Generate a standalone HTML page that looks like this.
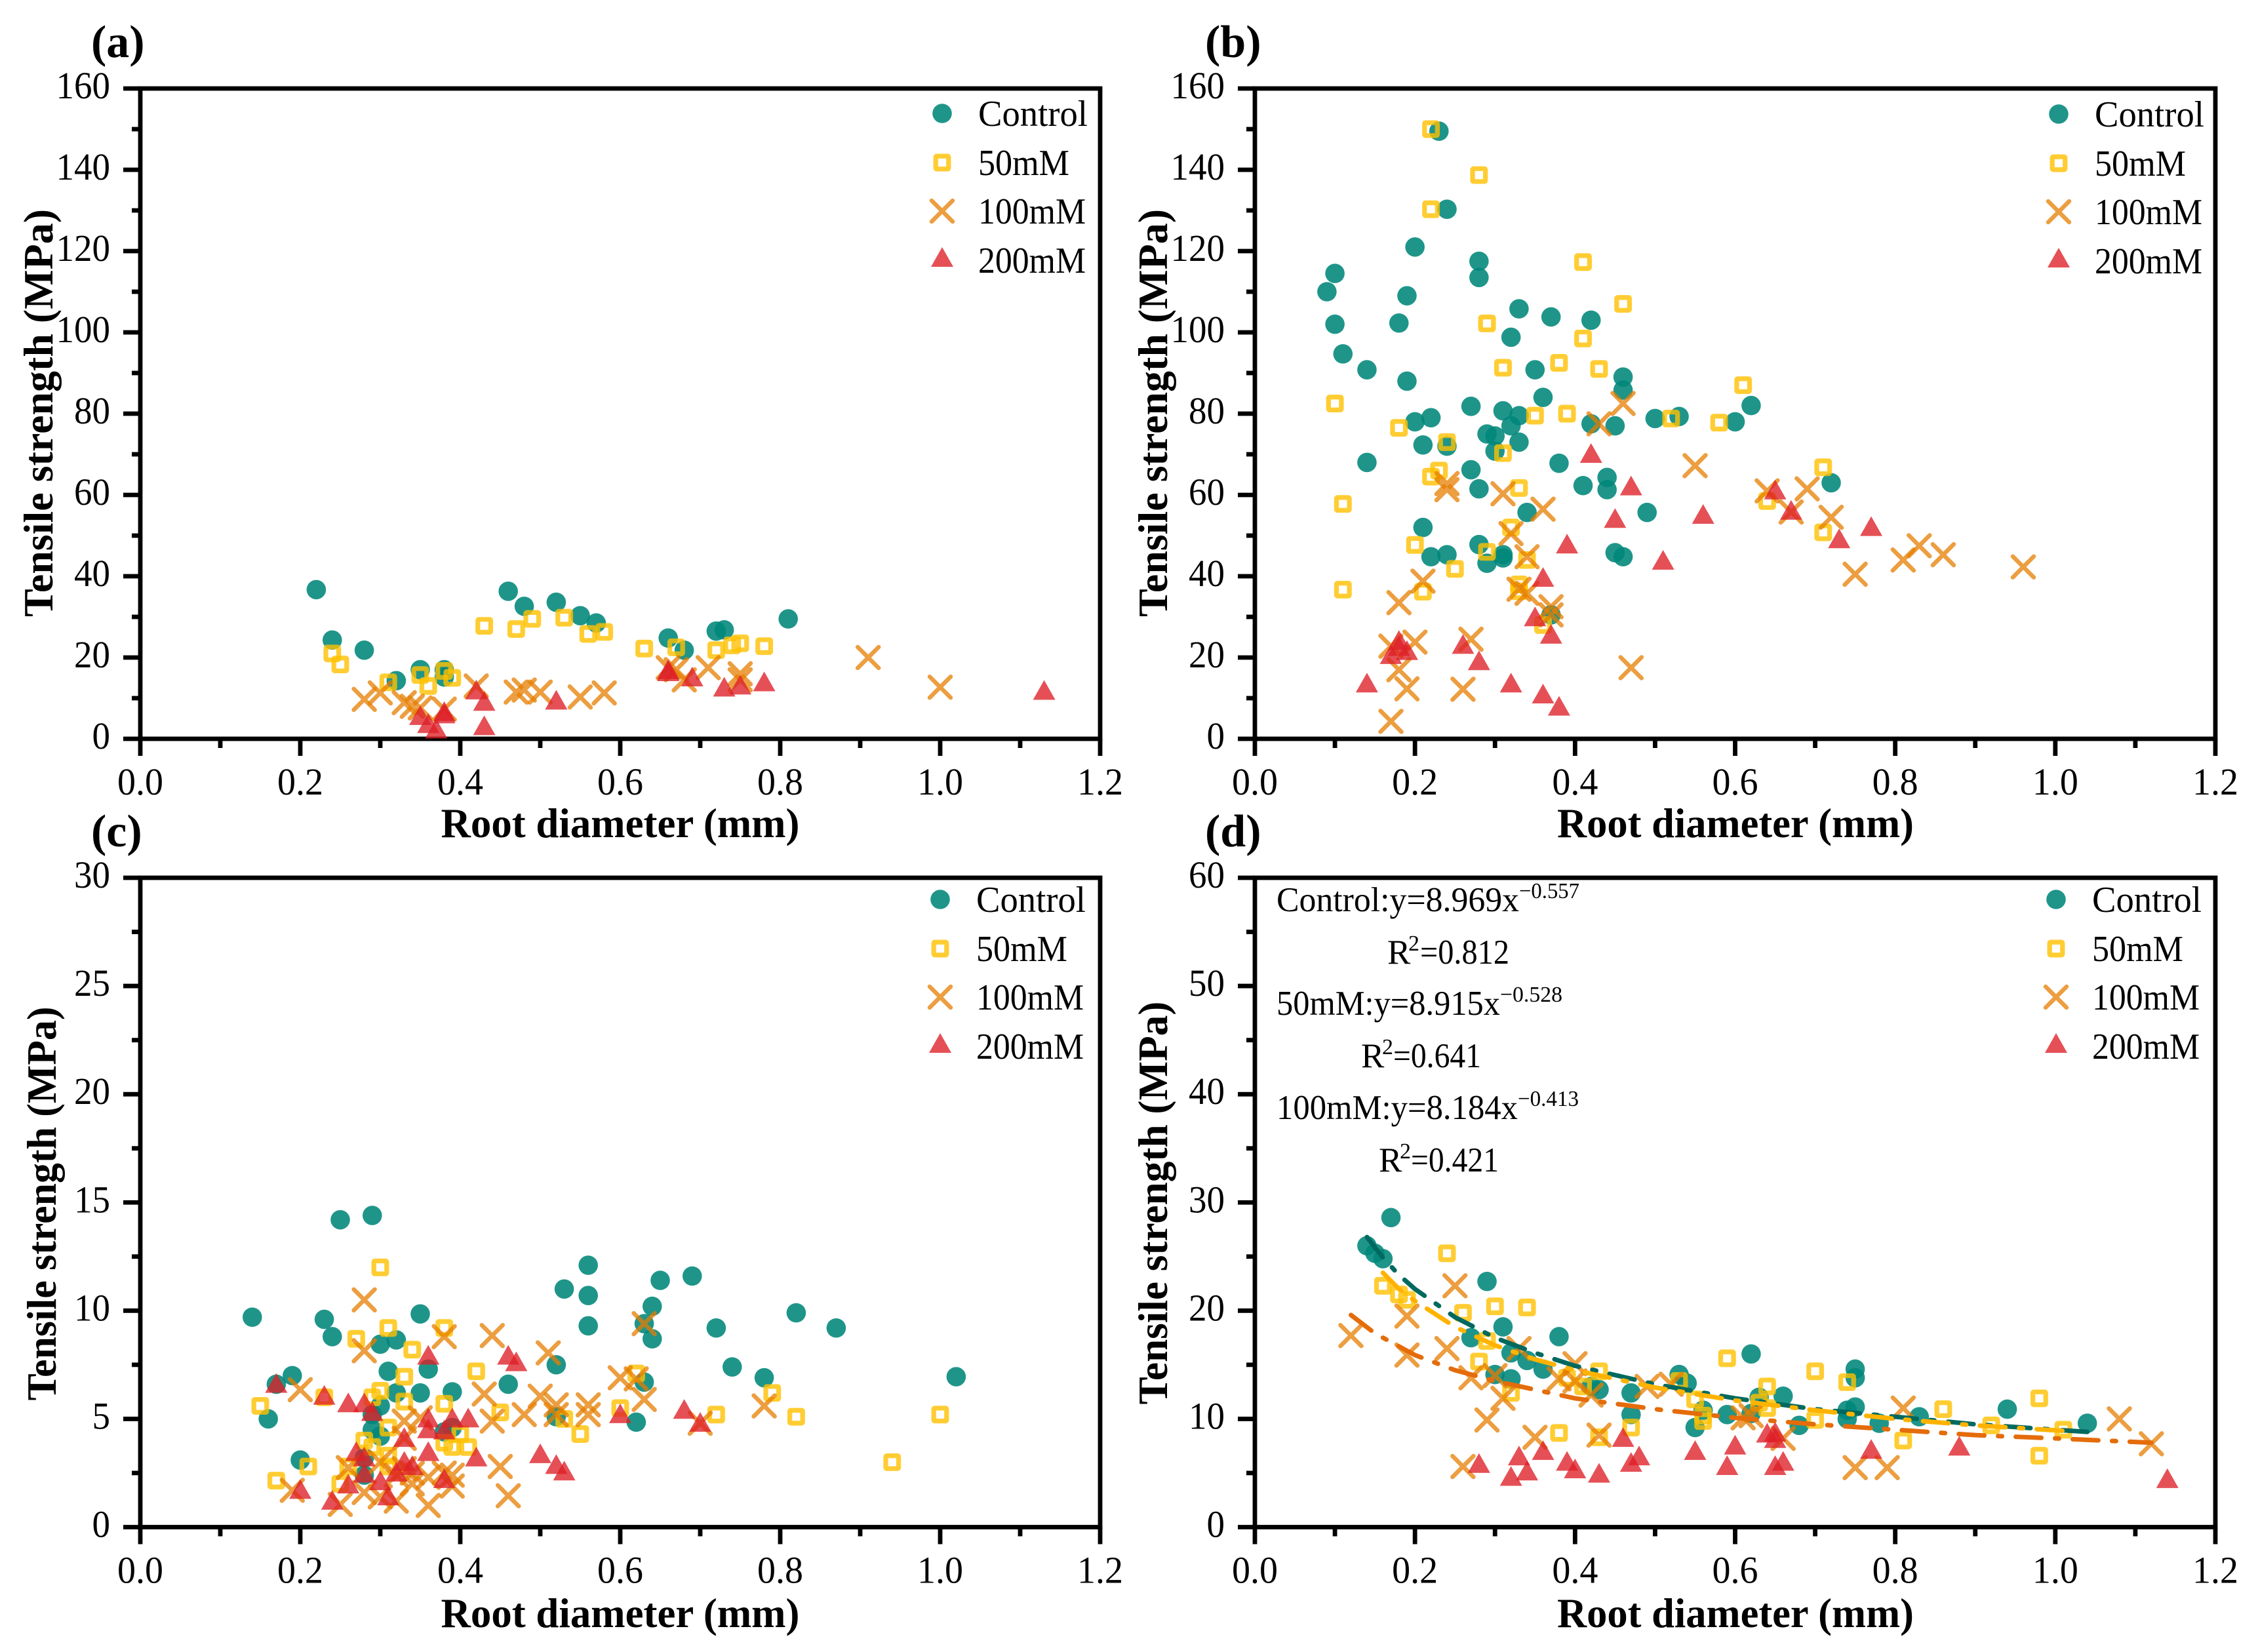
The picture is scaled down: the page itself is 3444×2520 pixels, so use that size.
<!DOCTYPE html>
<html lang="en">
<head>
<meta charset="utf-8">
<title>Tensile strength vs root diameter</title>
<style>
html,body{margin:0;padding:0;background:#fff;width:3444px;height:2520px;overflow:hidden}
svg{display:block}
text{font-family:"Liberation Serif",serif;fill:#000}
.title{font-weight:bold;font-size:63px}
.plabel{font-weight:bold;font-size:70px}
.eq{font-size:53px}
.sup{font-size:34px}
</style>
</head>
<body>
<svg id="figure" xmlns="http://www.w3.org/2000/svg" width="3444" height="2520" viewBox="0 0 3444 2520">
  <rect x="0" y="0" width="3444" height="2520" fill="#fff"/>
  <g id="plots"></g>

  <text class="plabel" x="139" y="87">(a)</text>
  <text class="plabel" x="1838" y="87">(b)</text>
  <text class="plabel" x="139" y="1291">(c)</text>
  <text class="plabel" x="1838" y="1291">(d)</text>

  <text class="title" x="946" y="1277" text-anchor="middle" textLength="547" lengthAdjust="spacingAndGlyphs">Root diameter (mm)</text>
  <text class="title" x="2647" y="1277" text-anchor="middle" textLength="544" lengthAdjust="spacingAndGlyphs">Root diameter (mm)</text>
  <text class="title" x="946" y="2482" text-anchor="middle" textLength="547" lengthAdjust="spacingAndGlyphs">Root diameter (mm)</text>
  <text class="title" x="2647" y="2482" text-anchor="middle" textLength="544" lengthAdjust="spacingAndGlyphs">Root diameter (mm)</text>

  <text class="title" transform="translate(80,630) rotate(-90)" text-anchor="middle" textLength="622" lengthAdjust="spacingAndGlyphs">Tensile strength (MPa)</text>
  <text class="title" transform="translate(1780,630) rotate(-90)" text-anchor="middle" textLength="622" lengthAdjust="spacingAndGlyphs">Tensile strength (MPa)</text>
  <text class="title" transform="translate(85,1836) rotate(-90)" text-anchor="middle" textLength="601" lengthAdjust="spacingAndGlyphs">Tensile strength (MPa)</text>
  <text class="title" transform="translate(1780,1835) rotate(-90)" text-anchor="middle" textLength="615" lengthAdjust="spacingAndGlyphs">Tensile strength (MPa)</text>

  <g>
    <text class="eq" x="1947" y="1390" textLength="370" lengthAdjust="spacingAndGlyphs">Control:y=8.969x</text>
    <text class="sup" x="2317" y="1370" textLength="92" lengthAdjust="spacingAndGlyphs">−0.557</text>
  </g>
  <g>
    <text class="eq" x="2116" y="1470">R</text>
    <text class="sup" x="2148" y="1450">2</text>
    <text class="eq" x="2166" y="1470" textLength="136" lengthAdjust="spacingAndGlyphs">=0.812</text>
  </g>
  <g>
    <text class="eq" x="1947" y="1548" textLength="341" lengthAdjust="spacingAndGlyphs">50mM:y=8.915x</text>
    <text class="sup" x="2288" y="1528" textLength="95" lengthAdjust="spacingAndGlyphs">−0.528</text>
  </g>
  <g>
    <text class="eq" x="2076" y="1628">R</text>
    <text class="sup" x="2108" y="1608">2</text>
    <text class="eq" x="2125" y="1628" textLength="134" lengthAdjust="spacingAndGlyphs">=0.641</text>
  </g>
  <g>
    <text class="eq" x="1947" y="1707" textLength="368" lengthAdjust="spacingAndGlyphs">100mM:y=8.184x</text>
    <text class="sup" x="2315" y="1687" textLength="93" lengthAdjust="spacingAndGlyphs">−0.413</text>
  </g>
  <g>
    <text class="eq" x="2103" y="1787">R</text>
    <text class="sup" x="2135" y="1767">2</text>
    <text class="eq" x="2152" y="1787" textLength="134" lengthAdjust="spacingAndGlyphs">=0.421</text>
  </g>
</svg>

<script>
// Axis tick values
const xTicks = [0, 0.2, 0.4, 0.6, 0.8, 1.0, 1.2];
const xMinorTicks = [0.1, 0.3, 0.5, 0.7, 0.9, 1.1];
const yTicksAB = [0, 20, 40, 60, 80, 100, 120, 140, 160];
const yMinorAB = [10, 30, 50, 70, 90, 110, 130, 150];
const yTicksC = [0, 5, 10, 15, 20, 25, 30];
const yMinorC = [2.5, 7.5, 12.5, 17.5, 22.5, 27.5];
const yTicksD = [0, 10, 20, 30, 40, 50, 60];
const yMinorD = [5, 15, 25, 35, 45, 55];
const seriesNames = ['Control', '50mM', '100mM', '200mM'];

// Panel (a) : [root diameter, tensile strength]
const aControl = [[.22,36.7],[.24,24.3],[.28,21.8],[.32,14.3],[.35,17],[.38,17],[.38,15.2],[.46,36.3],[.48,32.6],[.52,33.6],[.55,30.3],[.57,28.5],[.66,24.8],[.68,21.8],[.72,26.5],[.73,26.8],[.81,29.5]];
const a50mM = [[.24,21],[.25,18.3],[.31,13.9],[.35,15.7],[.36,13],[.38,16.7],[.39,15],[.43,27.8],[.47,27],[.49,29.5],[.53,29.8],[.56,25.8],[.58,26.3],[.63,22.2],[.67,22.5],[.72,21.8],[.74,23],[.75,23.5],[.78,22.8]];
const a100mM = [[.28,9.7],[.30,11.3],[.33,8.9],[.34,8],[.35,7.6],[.38,7.3],[.42,13],[.47,11.5],[.48,12],[.50,11.5],[.55,10.3],[.58,11.3],[.66,17.5],[.67,17],[.68,14.5],[.71,17.5],[.75,16],[.75,14.5],[.91,20],[1.0,12.7]];
const a200mM = [[.35,5.5],[.36,3.5],[.37,2.2],[.38,6.5],[.38,5.9],[.42,11.8],[.43,9],[.43,3],[.52,9.3],[.66,16.3],[.66,16.8],[.69,15],[.73,12.5],[.75,13],[.78,13.8],[1.13,11.7]];

// Panel (b)
const bControl = [[.09,110],[.10,114.5],[.10,102],[.11,94.7],[.14,90.8],[.14,68],[.18,102.3],[.19,109],[.19,88],[.20,121],[.20,78],[.21,72.3],[.21,52],[.22,79],[.22,44.8],[.23,149.5],[.24,130.3],[.24,72],[.24,45.3],[.27,81.8],[.27,66.2],[.28,117.5],[.28,113.5],[.28,61.5],[.28,47.8],[.29,75],[.29,43.2],[.30,74.5],[.30,70.8],[.31,80.7],[.31,45.3],[.31,44.5],[.32,98.8],[.32,77],[.33,105.8],[.33,79.5],[.33,73],[.34,55.7],[.35,90.8],[.36,84],[.37,103.8],[.37,30.5],[.38,67.8],[.41,62.3],[.42,103],[.42,77.5],[.44,64.3],[.44,61.3],[.45,77],[.45,45.8],[.46,89],[.46,85.8],[.46,44.8],[.49,55.7],[.50,78.8],[.53,79.3],[.60,78],[.62,82],[.72,63]];
const b50mM = [[.10,82.5],[.11,57.8],[.11,36.7],[.18,76.5],[.20,47.7],[.21,36.2],[.22,150],[.22,130.3],[.22,64.5],[.23,66],[.24,73],[.25,41.8],[.28,138.7],[.29,102.2],[.29,46],[.31,91.3],[.31,70.3],[.32,52],[.33,61.7],[.33,38],[.33,36.3],[.34,44],[.35,79.5],[.36,28],[.38,92.5],[.39,80],[.41,117.3],[.41,98.5],[.43,91],[.46,107],[.52,78.8],[.58,77.8],[.61,87],[.64,58.5],[.71,66.8],[.71,50.8]];
const b100mM = [[.17,22.8],[.17,4.3],[.18,33.5],[.18,17],[.19,12.3],[.20,23.8],[.21,38.8],[.24,62.8],[.24,61.3],[.26,12.2],[.27,24.5],[.31,60.3],[.32,50.5],[.34,44.8],[.33,36.8],[.34,35.8],[.36,56.5],[.37,32.5],[.37,30.5],[.43,77.5],[.46,82.5],[.47,17.5],[.55,67.2],[.64,61],[.67,55.8],[.69,61.5],[.72,54.5],[.75,40.5],[.81,44],[.83,47.5],[.86,45.3],[.96,42.3]];
const b200mM = [[.14,13.5],[.17,20.5],[.18,24],[.18,22.5],[.19,21.5],[.26,23],[.28,19],[.32,13.5],[.35,29.8],[.36,39.5],[.36,10.8],[.37,25.5],[.38,7.8],[.39,47.7],[.42,70],[.45,54],[.47,62],[.51,43.7],[.56,55],[.65,61],[.67,56],[.73,49],[.77,52]];

// Panel (c)
const cControl = [[.14,9.7],[.16,5],[.17,6.6],[.19,7],[.20,3.1],[.23,9.6],[.24,8.8],[.25,14.2],[.28,3.2],[.28,2.4],[.29,14.4],[.29,5.2],[.29,4.5],[.30,8.45],[.30,5.6],[.30,4.2],[.31,7.2],[.32,8.65],[.32,6.2],[.35,9.85],[.35,6.2],[.36,7.3],[.38,4.4],[.39,6.25],[.39,4.6],[.46,6.6],[.52,7.5],[.52,5.1],[.53,11],[.56,12.1],[.56,10.7],[.56,9.3],[.62,4.85],[.63,9.4],[.63,6.7],[.64,10.2],[.64,8.7],[.65,11.4],[.69,11.6],[.72,9.2],[.74,7.4],[.78,6.9],[.82,9.9],[.87,9.2],[1.02,6.95]];
const c50mM = [[.15,5.6],[.17,2.15],[.21,2.8],[.23,6],[.25,2],[.26,2.8],[.27,8.7],[.28,4],[.29,6],[.29,3.7],[.30,12],[.30,6.3],[.31,9.2],[.31,4.6],[.31,3.3],[.31,2.8],[.33,6.95],[.33,5.8],[.34,8.2],[.38,9.2],[.38,5.7],[.38,3.9],[.39,3.7],[.40,4.3],[.41,3.7],[.42,7.2],[.45,5.3],[.53,5],[.55,4.3],[.60,5.5],[.62,7.1],[.72,5.2],[.79,6.2],[.82,5.1],[.94,3],[1.0,5.2]];
const c100mM = [[.19,1.7],[.20,6.35],[.25,1.05],[.26,2.75],[.28,10.5],[.28,8.15],[.28,1.6],[.30,3],[.30,1.4],[.32,2.4],[.32,1.2],[.33,4.9],[.33,4.1],[.33,2.7],[.34,2],[.34,2.5],[.35,5.05],[.36,2.3],[.36,1],[.38,8.8],[.38,2.5],[.39,2.4],[.39,1.9],[.43,6.15],[.44,8.85],[.44,4.9],[.45,2.8],[.46,1.45],[.48,5.2],[.50,6.05],[.51,8.05],[.52,5.65],[.52,5.2],[.56,5.65],[.56,5.2],[.60,6.9],[.62,6.85],[.63,9.4],[.63,5.9],[.70,4.8],[.78,5.6]];
const c200mM = [[.17,6.6],[.20,1.7],[.23,6.05],[.24,1.2],[.26,5.7],[.26,1.95],[.27,3.45],[.28,5.7],[.28,3.2],[.28,2.45],[.29,5.3],[.30,2.1],[.31,1.4],[.32,2.5],[.33,4.1],[.33,3],[.34,2.8],[.36,7.9],[.36,5],[.36,4.5],[.36,3.45],[.38,4.45],[.38,2.2],[.39,5],[.41,5],[.42,3.2],[.46,7.9],[.47,7.6],[.50,3.35],[.52,2.85],[.53,2.55],[.60,5.2],[.68,5.4],[.70,4.8]];

// Panel (d)
const dControl = [[.14,26],[.15,25.3],[.16,24.8],[.17,28.6],[.27,17.5],[.29,22.7],[.30,14.1],[.31,18.5],[.32,16.1],[.32,13.7],[.34,15.4],[.36,14.6],[.38,17.6],[.42,13],[.43,12.7],[.47,12.4],[.47,10.4],[.53,14.1],[.54,13.3],[.55,9.2],[.56,10.8],[.59,10.4],[.62,16],[.62,10.5],[.63,12],[.66,12.1],[.68,9.4],[.74,10],[.74,10.8],[.75,14.6],[.75,13.8],[.75,11.1],[.78,9.6],[.83,10.2],[.94,10.9],[1.04,9.6]];
const d50mM = [[.16,22.3],[.18,21.5],[.19,21],[.24,25.3],[.26,19.8],[.28,15.3],[.29,17.2],[.30,20.4],[.32,12.4],[.34,20.3],[.38,8.7],[.39,13.8],[.41,13],[.43,14.4],[.43,8.3],[.47,9.2],[.53,13.5],[.55,11.8],[.56,10.3],[.56,9.8],[.59,15.6],[.63,11.5],[.64,13],[.64,11],[.70,14.4],[.70,9.9],[.74,13.4],[.81,8],[.86,10.9],[.92,9.4],[.98,11.9],[.98,6.6],[1.01,9]];
const d100mM = [[.12,17.7],[.19,19.5],[.19,15.9],[.24,16.5],[.25,22.3],[.26,5.6],[.27,13.8],[.29,9.9],[.30,14],[.31,11.9],[.33,16.5],[.35,8.3],[.38,13.7],[.40,15.1],[.40,13.5],[.42,12.2],[.43,8.5],[.49,13],[.52,13.2],[.61,10.1],[.62,10.3],[.66,8.2],[.75,5.5],[.79,5.5],[.81,11],[1.08,10],[1.12,7.7]];
const d200mM = [[.28,5.8],[.32,4.6],[.33,6.5],[.34,5.1],[.36,7],[.39,6],[.40,5.3],[.43,4.9],[.46,8.2],[.47,5.9],[.48,6.5],[.55,7],[.59,5.6],[.60,7.5],[.64,8.6],[.65,8.7],[.65,8.1],[.65,5.6],[.66,6],[.77,7.1],[.88,7.4],[1.14,4.4]];

// Panel (d) fit curves
const fitControl = [[.14,26.8],[.16,24.9],[.18,23.3],[.2,22],[.25,19.4],[.3,17.5],[.35,16.1],[.4,14.9],[.5,13.2],[.6,11.9],[.7,10.9],[.8,10.2],[.9,9.5],[1.04,8.8]];
const fit50mM = [[.16,23.5],[.18,22],[.2,20.9],[.25,18.5],[.3,16.8],[.35,15.5],[.4,14.5],[.5,12.9],[.6,11.7],[.7,10.8],[.8,10],[.9,9.4],[1.01,8.9]];
const fit100mM = [[.12,19.6],[.15,17.9],[.2,15.9],[.25,14.5],[.3,13.5],[.4,11.9],[.5,10.9],[.6,10.1],[.7,9.5],[.8,9],[.9,8.5],[1.0,8.2],[1.12,7.8]];

const SVGNS = 'http://www.w3.org/2000/svg';
const root = document.getElementById('plots');

function make(tag, parent, attrs) {
  const el = document.createElementNS(SVGNS, tag);
  for (const k in attrs) el.setAttribute(k, attrs[k]);
  parent.appendChild(el);
  return el;
}

function drawMarker(parent, kind, cx, cy, name) {
  const g = make('g', parent, { transform: 'translate(' + cx + ',' + cy + ')' });
  
  
  if (kind === 0) {
    make('circle', g, { r: 14.8, fill: '#00867A', 'fill-opacity': .88 });
  } else if (kind === 1) {
    make('rect', g, { x: -9.8, y: -9.8, width: 19.6, height: 19.6, rx: 1.5, fill: 'none', stroke: '#FFC000', 'stroke-opacity': .8, 'stroke-width': 7.3 });
  } else if (kind === 2) {
    make('path', g, { d: 'M-16 -16L16 16M-16 16L16 -16', fill: 'none', stroke: '#E67E00', 'stroke-opacity': .75, 'stroke-width': 6.5, 'stroke-linecap': 'round' });
  } else {
    make('path', g, { d: 'M0 -17L17 13L-17 13Z', fill: '#DE1F26', 'fill-opacity': .78 });
  }
  return g;
}

function drawPanel(p) {
  const g = make('g', root, {});
  
  
  const xPos = function (v) { return p.left + v / 1.2 * (p.right - p.left); };
  const yPos = function (v) { return p.bottom - v / p.yMax * (p.bottom - p.top); };

  const frame = make('rect', g, { x: p.left, y: p.top, width: p.right - p.left, height: p.bottom - p.top, fill: 'none', stroke: '#000', 'stroke-width': 6.8 });
  
  

  const tickStyle = { stroke: '#000', 'stroke-width': 6.8 };
  xTicks.forEach(function (v) {
    const t = make('line', g, Object.assign({ x1: xPos(v), x2: xPos(v), y1: p.bottom, y2: p.bottom + 26 }, tickStyle));
    
    
    const l = make('text', g, { x: xPos(v), y: p.bottom + 85, 'text-anchor': 'middle', 'font-size': 58, textLength: 70, lengthAdjust: 'spacingAndGlyphs' });
    
    
    l.textContent = v.toFixed(1);
  });
  xMinorTicks.forEach(function (v) {
    const t = make('line', g, Object.assign({ x1: xPos(v), x2: xPos(v), y1: p.bottom, y2: p.bottom + 14 }, tickStyle));
    
    
  });
  p.yTicks.forEach(function (v) {
    const t = make('line', g, Object.assign({ x1: p.left - 26, x2: p.left, y1: yPos(v), y2: yPos(v) }, tickStyle));
    
    
    const label = String(v);
    const l = make('text', g, { x: p.left - 46, y: yPos(v) + 15, 'text-anchor': 'end', 'font-size': 58, textLength: label.length * 27.5, lengthAdjust: 'spacingAndGlyphs' });
    
    
    l.textContent = label;
  });
  p.yMinor.forEach(function (v) {
    const t = make('line', g, Object.assign({ x1: p.left - 13, x2: p.left, y1: yPos(v), y2: yPos(v) }, tickStyle));
    
    
  });

  p.series.forEach(function (points, kind) {
    const sg = make('g', g, {});
    
    
    points.forEach(function (pt) {
      drawMarker(sg, kind, xPos(pt[0]), yPos(pt[1]), 'point-' + seriesNames[kind].toLowerCase());
    });
  });

  (p.fits || []).forEach(function (fit) {
    const line = make('polyline', g, {
      points: fit.points.map(function (pt) { return xPos(pt[0]) + ',' + yPos(pt[1]); }).join(' '),
      fill: 'none', stroke: fit.color, 'stroke-width': 7, 'stroke-linecap': 'round', 'stroke-linejoin': 'round',
      'stroke-dasharray': '39 21 6 21'
    });
    
    
  });

  const legend = make('g', g, {});
  
  
  const rows = [p.legendY, p.legendY + 75, p.legendY + 149, p.legendY + 221];
  const widths = [167, 139, 164, 164];
  seriesNames.forEach(function (name, i) {
    const entry = make('g', legend, {});
    
    
    drawMarker(entry, i, p.legendX, rows[i], 'legend-marker');
    const baseline = rows[i] + (i === 3 ? 22 : 19);
    const t = make('text', entry, { x: p.legendX + 55, y: baseline, 'font-size': 56, textLength: widths[i], lengthAdjust: 'spacingAndGlyphs' });
    
    
    t.textContent = name;
  });
}

drawPanel({ id: 'a', left: 214, right: 1678, top: 135, bottom: 1127, yMax: 160, yTicks: yTicksAB, yMinor: yMinorAB, legendX: 1437, legendY: 173, series: [aControl, a50mM, a100mM, a200mM] });
drawPanel({ id: 'b', left: 1914, right: 3379, top: 135, bottom: 1127, yMax: 160, yTicks: yTicksAB, yMinor: yMinorAB, legendX: 3140, legendY: 174, series: [bControl, b50mM, b100mM, b200mM] });
drawPanel({ id: 'c', left: 214, right: 1678, top: 1339, bottom: 2329.5, yMax: 30, yTicks: yTicksC, yMinor: yMinorC, legendX: 1434, legendY: 1372, series: [cControl, c50mM, c100mM, c200mM] });
drawPanel({ id: 'd', left: 1914, right: 3379, top: 1339, bottom: 2329.5, yMax: 60, yTicks: yTicksD, yMinor: yMinorD, legendX: 3136, legendY: 1372, series: [dControl, d50mM, d100mM, d200mM],
  fits: [
    { name: 'fit-line-control', points: fitControl, color: '#00695F' },
    { name: 'fit-line-50mm', points: fit50mM, color: '#FFB300' },
    { name: 'fit-line-100mm', points: fit100mM, color: '#E46C0A' }
  ] });
</script>
</body>
</html>
